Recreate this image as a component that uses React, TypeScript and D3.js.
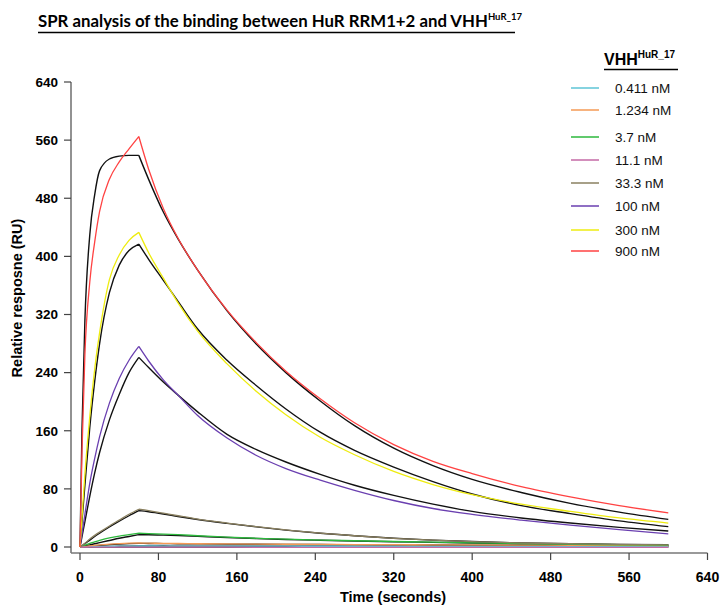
import React from 'react';
import * as d3 from 'd3';

// sampling times (s) shared by every sensorgram
const times = [0, 2, 5, 10, 15, 20, 30, 40, 50, 60, 70, 85, 100, 120, 150, 180, 210, 245, 280, 320, 360, 400, 450, 500, 550, 600];

// measured responses (RU)
const c0411 = [0, 0.1, 0.2, 0.4, 0.6, 0.7, 0.9, 1.1, 1.3, 1.4, 1.4, 1.3, 1.3, 1.2, 1.2, 1.1, 1.1, 1, 1, 0.9, 0.9, 0.8, 0.8, 0.7, 0.7, 0.6];
const c1234 = [0, 0.3, 0.8, 1.5, 2.3, 3, 4, 4.7, 5.2, 5.5, 5.3, 5, 4.8, 4.5, 4.2, 4, 3.8, 3.6, 3.4, 3.2, 3, 2.8, 2.6, 2.4, 2.2, 2];
const c37 = [0, 1, 2.5, 5, 7, 9, 12.5, 15, 17, 19, 18.5, 17.8, 17, 15.5, 13.5, 12, 10.8, 9.6, 8.6, 7.6, 6.6, 5.7, 4.7, 3.8, 3.1, 2.5];
const c111 = [0, 0, 0, -0.1, -0.1, -0.2, -0.2, -0.3, -0.3, -0.3, -0.3, -0.3, -0.3, -0.3, -0.3, -0.4, -0.4, -0.4, -0.4, -0.4, -0.4, -0.4, -0.4, -0.4, -0.4, -0.4];
const c333 = [0, 2, 5, 11, 16, 20.5, 29, 37, 45, 52, 50, 46.5, 43, 38.5, 33, 28, 23.5, 19, 15.5, 12, 9.5, 7.5, 5.5, 4.5, 3.5, 3];
const c100 = [0, 18, 45, 88, 122, 152, 198, 232, 257, 276, 256, 230, 209, 181, 150, 126, 108, 92, 78, 64, 53, 45, 37, 30, 24, 18];
const c300 = [0, 40, 100, 180, 245, 295, 368, 402, 422, 433, 405, 370, 336, 297, 252, 214, 182, 151, 127, 104, 86, 72, 59, 49, 40, 33];
const c900 = [0, 130, 265, 365, 420, 462, 506, 530, 548, 565, 520, 466, 425, 381, 326, 281, 242, 204, 171, 141, 118, 101, 83, 69, 57, 47];

// 1:1 binding model fits (RU)
const f0411 = [0, 0.1, 0.2, 0.3, 0.5, 0.6, 0.8, 1, 1.2, 1.3, 1.3, 1.3, 1.2, 1.2, 1.1, 1.1, 1, 1, 0.9, 0.9, 0.8, 0.8, 0.7, 0.7, 0.6, 0.6];
const f1234 = [0, 0.2, 0.5, 1.1, 1.7, 2.2, 3.2, 4, 4.6, 5, 4.9, 4.7, 4.5, 4.3, 4, 3.8, 3.6, 3.4, 3.2, 3, 2.8, 2.6, 2.4, 2.2, 2, 1.9];
const f37 = [0, 0.6, 1.5, 3, 4.5, 6, 9, 12, 14.5, 17, 16.8, 16.3, 15.8, 14.7, 13, 11.6, 10.4, 9.3, 8.3, 7.3, 6.4, 5.5, 4.5, 3.6, 3, 2.5];
const f111 = [0, 0, 0, 0, 0, 0, 0, 0, 0, 0, 0, 0, 0, 0, 0, 0, 0, 0, 0, 0, 0, 0, 0, 0, 0, 0];
const f333 = [0, 1.8, 4.5, 9.5, 14.5, 19, 27.5, 35.5, 43, 50, 48.5, 45.5, 42, 37.8, 32.5, 27.7, 23.3, 19, 15.5, 12, 9.5, 7.5, 5.5, 4.5, 3.5, 3];
const f100 = [0, 14, 35, 70, 102, 130, 175, 210, 240, 261, 247, 227, 209, 186, 155, 134, 117, 100, 85, 71, 59, 49, 40, 33, 27, 22];
const f300 = [0, 35, 85, 165, 228, 280, 350, 388, 408, 417, 396, 367, 338, 300, 257, 222, 190, 158, 133, 110, 90, 73, 57, 46, 36, 28];
const f900 = [0, 160, 312, 430, 485, 518, 534, 538, 539, 539, 506, 461, 424, 381, 325, 279, 240, 201, 167, 136, 112, 93, 75, 60, 48, 38];

const labels = ['0.411 nM', '1.234 nM', '3.7 nM', '11.1 nM', '33.3 nM', '100 nM', '300 nM', '900 nM'];
const colors = ['#5ec4d6', '#f59a55', '#2db83d', '#c46aa6', '#8a8060', '#6a3fb0', '#eeec10', '#ff4242'];
const measured = [c0411, c1234, c37, c111, c333, c100, c300, c900];
const fitted = [f0411, f1234, f37, f111, f333, f100, f300, f900];

const xTicks = [0, 80, 160, 240, 320, 400, 480, 560, 640];
const yTicks = [0, 80, 160, 240, 320, 400, 480, 560, 640];

const legendY = [88, 110, 137, 160, 183, 206, 230, 251];

const axisFont = '"Liberation Sans", Arial, sans-serif';

export default function App() {
    const xScale = d3.scaleLinear().domain([0, 640]).range([80, 707.5]);
    const yScale = d3.scaleLinear().domain([0, 640]).range([547, 82]);

    const line = d3.line<[number, number]>()
        .x(d => xScale(d[0]))
        .y(d => yScale(d[1]))
        .curve(d3.curveMonotoneX);

    // association and dissociation drawn as two pieces so the injection end stays sharp
    const makePath = (vals: number[]) => {
        const pts: [number, number][] = times.map((t, i) => [t, vals[i]]);
        const assoc = pts.filter(p => p[0] <= 60);
        const dissoc = pts.filter(p => p[0] >= 60);
        return (line(assoc) || '') + (line(dissoc) || '');
    };

    const axisY = 553;
    const axisX = 71;

    return (
        <svg width={725} height={607} style={{ position: 'absolute', left: 0, top: 0, background: '#fff' }}>
            {/* Title */}
            <text x={38} y={27} fontFamily="Lato, 'Open Sans', sans-serif" fontWeight="bold" fontSize={16.8} fill="#000">
                SPR analysis of the binding between HuR RRM1+2 and VHH
                <tspan fontSize={9.5} dy={-7}>HuR_17</tspan>
            </text>
            <line x1={38} x2={515} y1={32.5} y2={32.5} stroke="#000" strokeWidth={1.6} />

            {/* Y axis */}
            <line x1={axisX} x2={axisX} y1={yScale(640)} y2={axisY} stroke="#777" strokeWidth={1.6} />
            {yTicks.map(t => (
                <g key={'y' + t}>
                    <line x1={axisX - 7} x2={axisX} y1={yScale(t)} y2={yScale(t)} stroke="#444" strokeWidth={1.2} />
                    <text x={58} y={yScale(t)} dy="0.36em" textAnchor="end" fontFamily={axisFont} fontWeight="bold" fontSize={13.5} fill="#000">
                        {t}
                    </text>
                </g>
            ))}
            <text transform={`translate(22, 298) rotate(-90)`} textAnchor="middle" fontFamily={axisFont} fontWeight="bold" fontSize={14.5} fill="#000">
                Relative resposne (RU)
            </text>

            {/* X axis */}
            <line x1={axisX} x2={xScale(640)} y1={axisY} y2={axisY} stroke="#777" strokeWidth={1.6} />
            {xTicks.map(t => (
                <g key={'x' + t}>
                    <line x1={xScale(t)} x2={xScale(t)} y1={axisY} y2={axisY + 7} stroke="#444" strokeWidth={1.2} />
                    <text x={xScale(t)} y={582} textAnchor="middle" fontFamily={axisFont} fontWeight="bold" fontSize={14} fill="#000">
                        {t}
                    </text>
                </g>
            ))}
            <text x={393} y={602} textAnchor="middle" fontFamily={axisFont} fontWeight="bold" fontSize={14.5} fill="#000">
                Time (seconds)
            </text>

            {/* Fits */}
            {fitted.map((vals, i) => (
                <path key={'f' + i} d={makePath(vals)} fill="none" stroke="#111" strokeWidth={1.4} strokeLinejoin="round" />
            ))}
            {/* Measured sensorgrams */}
            {measured.map((vals, i) => (
                <path key={'m' + i} d={makePath(vals)} fill="none" stroke={colors[i]} strokeWidth={1.3} strokeLinejoin="round" />
            ))}

            {/* Legend */}
            <text x={604} y={65} fontFamily={axisFont} fontWeight="bold" fontSize={16} fill="#000">
                VHH
                <tspan fontSize={10} dy={-7}>HuR_17</tspan>
            </text>
            <line x1={604} x2={678} y1={69.5} y2={69.5} stroke="#000" strokeWidth={1.5} />
            {labels.map((lab, i) => (
                <g key={lab}>
                    <line x1={571} x2={599} y1={legendY[i]} y2={legendY[i]} stroke={colors[i]} strokeWidth={1.5} />
                    <text x={615} y={legendY[i]} dy="0.35em" fontFamily={axisFont} fontSize={13.5} fill="#111">
                        {lab}
                    </text>
                </g>
            ))}
        </svg>
    );
}
